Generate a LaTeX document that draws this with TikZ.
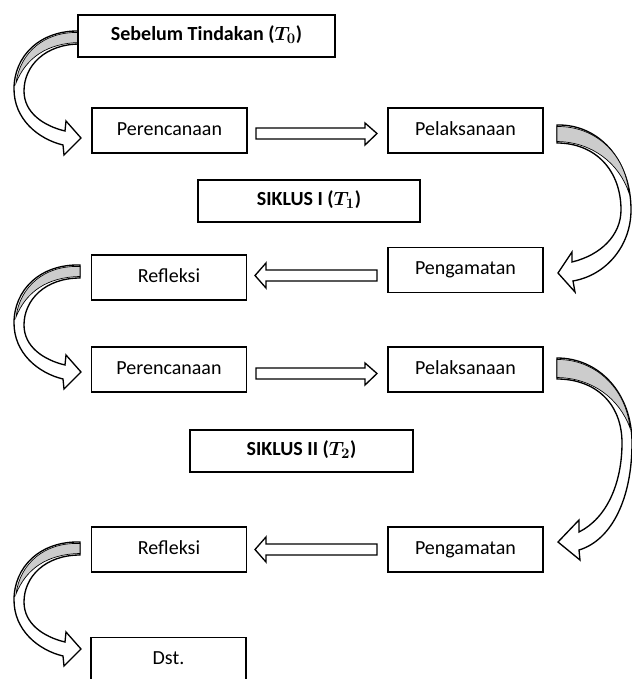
\documentclass[tikz,border=0pt]{standalone}
\usepackage{fontspec}
\setmainfont{Carlito}
\begin{document}
\begin{tikzpicture}[x=0.75pt,y=-0.75pt,
  box/.style={draw=black, line width=1.1pt, fill=white, inner sep=0pt,
    text height=10.5pt, text depth=3.75pt,
    font=\fontsize{15}{18}\selectfont},
  sbox/.style={box, minimum width=116.25pt, minimum height=33.75pt},
  wbox/.style={box, minimum height=31.5pt, font=\fontsize{15}{18}\selectfont\bfseries\boldmath},
  barrow/.style={draw=black, line width=1pt, fill=white, line join=miter},
  carrow/.style={draw=black, line width=1pt, fill=white, line join=miter},
  shade3d/.style={fill=gray!40, draw=black, line width=0.5pt}]
\useasboundingbox (0,0) rectangle (632,679);

% ---- left curved arrows ----
\foreach \ty in {31,265,542}{
\begin{scope}[shift={(80,\ty)}]
  \path[carrow] (0,0) .. controls (-40,-1) and (-66,25) .. (-66,58)
     .. controls (-66,88) and (-42,108) .. (-17,114)
     -- (-16,124) -- (1,107) -- (-14,90) -- (-15,100)
     .. controls (-36,95) and (-56,82) .. (-56,60)
     .. controls (-56,35) and (-35,13) .. (0,13) -- cycle;
  \path[shade3d] (0,1.5) .. controls (-36,0) and (-60,22) .. (-64,52)
     .. controls (-54,27) and (-33,12) .. (0,11.5) -- cycle;
\end{scope}}

% ---- right curved arrow 1 ----
\begin{scope}[shift={(557,125)}]
  \path[carrow] (0,0) .. controls (42,-1) and (74,35) .. (74,85)
     .. controls (74,120) and (50,150) .. (16,156)
     -- (18,167) -- (1,148) -- (15,127) -- (15,137)
     .. controls (44,130) and (64,110) .. (64,85)
     .. controls (64,45) and (38,18) .. (0,18) -- cycle;
  \path[shade3d] (0,1.5) .. controls (38,1) and (68,28) .. (72,68)
     .. controls (62,38) and (35,17) .. (0,16.5) -- cycle;
\end{scope}
% ---- right curved arrow 2 ----
\begin{scope}[shift={(557,358)}]
  \path[carrow] (0,0) .. controls (42,0) and (75,35) .. (75,85)
     .. controls (75,140) and (55,182) .. (22,192)
     -- (23,202) -- (1,184) -- (22,162) -- (22,174)
     .. controls (50,160) and (65,125) .. (65,85)
     .. controls (65,45) and (38,21) .. (0,21) -- cycle;
  \path[shade3d] (0,1.5) .. controls (38,1) and (69,30) .. (73,70)
     .. controls (62,40) and (35,20) .. (0,19.5) -- cycle;
\end{scope}

% ---- boxes ----
\node[wbox, minimum width=192.75pt] (seb) at (206.5,36) {Sebelum Tindakan ($T_0$)};
\node[sbox] (per1) at (169.5,130.5) {Perencanaan};
\node[sbox] (pel1) at (465.5,130.5) {Pelaksanaan};
\node[wbox, minimum width=166.5pt] (sik1) at (309,201) {SIKLUS I ($T_1$)};
\node[sbox] (pen1) at (465.5,270) {Pengamatan};
\node[sbox] (ref1) at (169,277.5) {Refleksi};
\node[sbox] (per2) at (169,369.5) {Perencanaan};
\node[sbox] (pel2) at (465.5,369.5) {Pelaksanaan};
\node[wbox, minimum width=167.25pt] (sik2) at (301.5,451) {SIKLUS II ($T_2$)};
\node[sbox] (pen2) at (465.5,549.5) {Pengamatan};
\node[sbox] (ref2) at (169,549.5) {Refleksi};
\node[sbox] (dst) at (168.5,660) {Dst.};

% ---- straight block arrows ----
\path[barrow] (256,128) -- (365,128) -- (365,123) -- (377,133.5) -- (365,145) -- (365,139) -- (256,139) -- cycle;
\path[barrow] (256,368) -- (365,368) -- (365,363) -- (377,373.5) -- (365,385) -- (365,379) -- (256,379) -- cycle;
\path[barrow] (377,270) -- (266,270) -- (266,263) -- (255,275.5) -- (266,288) -- (266,281) -- (377,281) -- cycle;
\path[barrow] (377,544) -- (266,544) -- (266,537) -- (255,549.5) -- (266,562) -- (266,555) -- (377,555) -- cycle;
\end{tikzpicture}
\end{document}
